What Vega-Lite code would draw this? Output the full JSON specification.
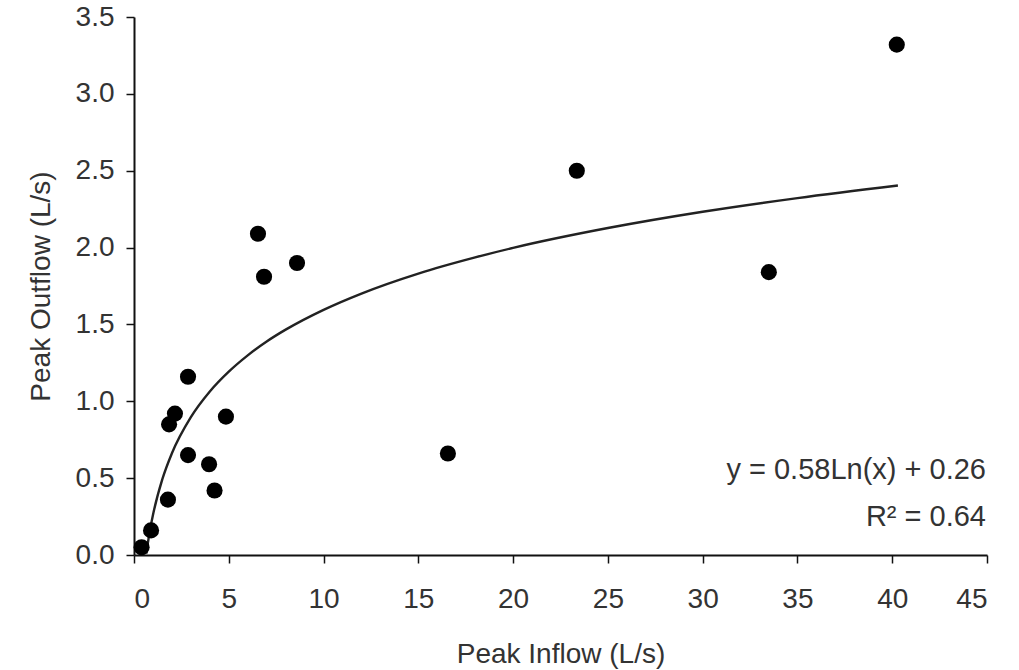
{
  "$schema": "https://vega.github.io/schema/vega-lite/v6.json",
  "width": 853,
  "height": 538,
  "autosize": {"type": "none"},
  "padding": {"left": 134, "top": 17, "right": 32, "bottom": 115},
  "background": "white",
  "config": {
    "view": {"stroke": null},
    "font": "Liberation Sans",
    "axis": {
      "domainColor": "#111",
      "domainWidth": 2,
      "tickColor": "#111",
      "tickWidth": 1.5,
      "tickSize": 8,
      "grid": false,
      "labelFont": "Liberation Sans",
      "labelFontSize": 28,
      "labelColor": "#333",
      "titleFont": "Liberation Sans",
      "titleFontSize": 28,
      "titleFontWeight": "normal",
      "titleColor": "#333"
    }
  },
  "datasets": {
    "pts": [
      {"inflow": 40.24, "outflow": 3.32},
      {"inflow": 23.36, "outflow": 2.50},
      {"inflow": 33.49, "outflow": 1.84},
      {"inflow": 16.56, "outflow": 0.66},
      {"inflow": 6.54, "outflow": 2.09},
      {"inflow": 6.86, "outflow": 1.81},
      {"inflow": 8.6, "outflow": 1.90},
      {"inflow": 2.85, "outflow": 1.16},
      {"inflow": 2.16, "outflow": 0.92},
      {"inflow": 1.85, "outflow": 0.85},
      {"inflow": 4.85, "outflow": 0.90},
      {"inflow": 2.85, "outflow": 0.65},
      {"inflow": 3.96, "outflow": 0.59},
      {"inflow": 4.25, "outflow": 0.42},
      {"inflow": 1.79, "outflow": 0.36},
      {"inflow": 0.9, "outflow": 0.16},
      {"inflow": 0.4, "outflow": 0.05}
    ],
    "fit": [
      {"inflow": 0.65, "outflow": 0.010},
      {"inflow": 0.8, "outflow": 0.131},
      {"inflow": 1, "outflow": 0.26},
      {"inflow": 1.5, "outflow": 0.495},
      {"inflow": 2, "outflow": 0.662},
      {"inflow": 3, "outflow": 0.897},
      {"inflow": 4, "outflow": 1.064},
      {"inflow": 5, "outflow": 1.193},
      {"inflow": 6, "outflow": 1.299},
      {"inflow": 7, "outflow": 1.389},
      {"inflow": 8, "outflow": 1.466},
      {"inflow": 10, "outflow": 1.595},
      {"inflow": 12, "outflow": 1.701},
      {"inflow": 15, "outflow": 1.831},
      {"inflow": 18, "outflow": 1.936},
      {"inflow": 20, "outflow": 1.998},
      {"inflow": 25, "outflow": 2.127},
      {"inflow": 30, "outflow": 2.233},
      {"inflow": 35, "outflow": 2.322},
      {"inflow": 40.3, "outflow": 2.404}
    ],
    "notes": [
      {"inflow": 45, "outflow": 0.553, "label": "y = 0.58Ln(x) + 0.26"},
      {"inflow": 45, "outflow": 0.247, "label": "R² = 0.64"}
    ]
  },
  "layer": [
    {
      "data": {"name": "fit"},
      "mark": {"type": "line", "color": "#222", "strokeWidth": 2.4, "interpolate": "monotone"},
      "encoding": {
        "x": {"field": "inflow", "type": "quantitative",
              "scale": {"domain": [0, 45], "nice": false},
              "axis": {"values": [0,5,10,15,20,25,30,35,40,45], "title": "Peak Inflow (L/s)", "titlePadding": 27, "labelPadding": 22}},
        "y": {"field": "outflow", "type": "quantitative",
              "scale": {"domain": [0, 3.5], "nice": false},
              "axis": {"values": [0,0.5,1,1.5,2,2.5,3,3.5], "format": ".1f", "title": "Peak Outflow (L/s)", "titlePadding": 20, "labelPadding": 12}}
      }
    },
    {
      "data": {"name": "pts"},
      "mark": {"type": "point", "filled": true, "color": "#000", "opacity": 1, "size": 260},
      "encoding": {
        "x": {"field": "inflow", "type": "quantitative"},
        "y": {"field": "outflow", "type": "quantitative"}
      }
    },
    {
      "data": {"name": "notes"},
      "mark": {"type": "text", "align": "right", "baseline": "middle", "fontSize": 29, "color": "#333", "font": "Liberation Sans", "dx": -1},
      "encoding": {
        "x": {"field": "inflow", "type": "quantitative"},
        "y": {"field": "outflow", "type": "quantitative"},
        "text": {"field": "label"}
      }
    }
  ]
}
